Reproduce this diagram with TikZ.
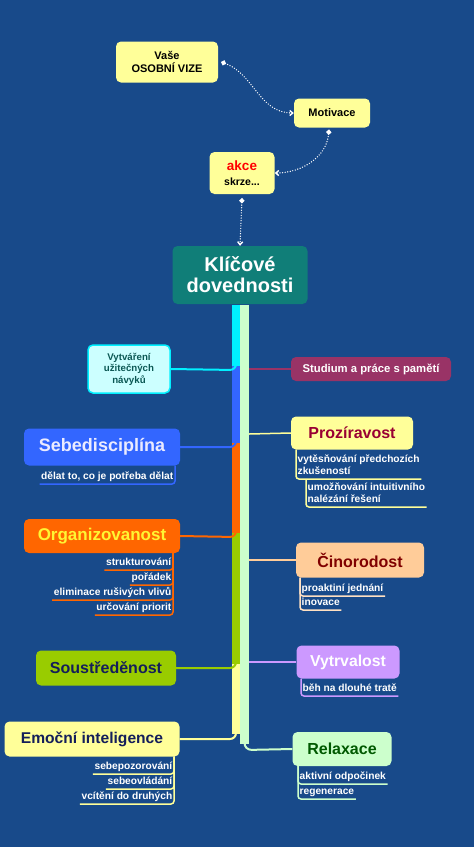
\documentclass[tikz,border=0pt]{standalone}
\usepackage{fontspec}
\setmainfont{Liberation Sans}
\usetikzlibrary{positioning, arrows.meta}
\definecolor{bgblue}{RGB}{24,74,138}
\definecolor{notepad}{RGB}{255,255,153}
\definecolor{keyteal}{RGB}{16,126,120}
\definecolor{habitcyan}{RGB}{0,240,255}
\definecolor{habitfill}{RGB}{204,255,255}
\definecolor{discblue}{RGB}{51,102,255}
\definecolor{orgorange}{RGB}{255,102,0}
\definecolor{focgreen}{RGB}{153,204,0}
\definecolor{memplum}{RGB}{153,51,102}
\definecolor{actpeach}{RGB}{255,204,153}
\definecolor{perslav}{RGB}{204,153,255}
\definecolor{relmint}{RGB}{204,255,204}
\definecolor{inknavy}{RGB}{20,30,90}

\begin{document}
\begin{tikzpicture}[x=1pt, y=-1pt, >={Straight Barb[length=3pt,width=5pt]},
                    box/.style={rounded corners=5pt, align=center, inner sep=0pt, font=\bfseries},
                    sub/.style={inner xsep=1.5pt, inner ysep=1.5pt, text=white, align=left,
                                text height=7.6pt, text depth=2.4pt,
                                font=\bfseries\fontsize{10.2}{12}\selectfont},
                    flow/.style={white, line width=1.4pt, line cap=round, dash pattern=on 0pt off 2.6pt,
                                 {Circle[length=5pt,width=5pt]}->},
                    twig/.style={line width=1.5pt, rounded corners=3pt}]

    \useasboundingbox (0,0) rectangle (474,847);
    \fill[bgblue] (0,0) rectangle (474,847);

    % top: vision -> motivation -> action
    \node[box, fill=notepad, minimum width=102, minimum height=41,
          font=\bfseries\fontsize{11}{13}\selectfont] (vize) at (167,62) {Vaše\\OSOBNÍ VIZE};
    \node[box, fill=notepad, minimum width=76, minimum height=29,
          font=\bfseries\fontsize{11}{13}\selectfont] (mot) at (332,113) {Motivace};
    \node[box, fill=notepad, minimum width=65, minimum height=42,
          font=\bfseries\fontsize{10.5}{15}\selectfont] (akce) at (242,173)
          {{\color{red}\fontsize{13.5}{15}\selectfont akce}\\skrze...};
    \node[box, fill=keyteal, text=white, minimum width=135, minimum height=58,
          font=\bfseries\fontsize{20}{21}\selectfont] (key) at (240,275) {Klíčové\\dovednosti};

    \draw[flow] (vize.east) ++(3,0) to[out=-20, in=180] (mot.west);
    \draw[flow] (mot.south) ++(-3,2) to[out=-95, in=0] (akce.east);
    \draw[flow] (akce.south) ++(0,4) -- (key.north);

    % left branches
    \node[box, fill=habitfill, draw=habitcyan, line width=1.5pt, text=keyteal!70!black,
          minimum width=82, minimum height=48,
          font=\bfseries\fontsize{9.7}{11.5}\selectfont] (habit) at (129,369) {Vytváření\\užitečných\\návyků};
    \node[box, fill=discblue, text=white!92!blue, minimum width=156, minimum height=37,
          font=\bfseries\fontsize{18}{20}\selectfont] (disc) at (102,447) {Sebedisciplína};
    \node[box, fill=orgorange, text=yellow!80!white, minimum width=156, minimum height=34,
          font=\bfseries\fontsize{17}{20}\selectfont] (org) at (102,536) {Organizovanost};
    \node[box, fill=focgreen, text=inknavy, minimum width=140, minimum height=35,
          font=\bfseries\fontsize{16}{20}\selectfont] (focus) at (106,668) {Soustředěnost};
    \node[box, fill=notepad, text=inknavy, minimum width=175, minimum height=35,
          font=\bfseries\fontsize{15.6}{20}\selectfont] (emo) at (92,739) {Emoční inteligence};

    % right branches
    \node[box, fill=memplum, text=white, minimum width=160, minimum height=24,
          font=\bfseries\fontsize{11.3}{13}\selectfont] (mem) at (371,369) {Studium a práce s pamětí};
    \node[box, fill=notepad, text=purple!80!black, minimum width=122, minimum height=33,
          font=\bfseries\fontsize{16}{20}\selectfont] (fore) at (352,433) {Prozíravost};
    \node[box, fill=actpeach, text=red!50!black, minimum width=128, minimum height=35,
          font=\bfseries\fontsize{16}{20}\selectfont] (act) at (360,560) {Činorodost};
    \node[box, fill=perslav, text=white, minimum width=103, minimum height=33,
          font=\bfseries\fontsize{15.8}{20}\selectfont] (pers) at (348,662) {Vytrvalost};
    \node[box, fill=relmint, text=green!35!black, minimum width=99, minimum height=34,
          font=\bfseries\fontsize{16}{20}\selectfont] (relax) at (342,749) {Relaxace};

    % trunk
    \fill[habitcyan] (232,305) rectangle (240,366);
    \fill[discblue] (232,366) rectangle (240,443);
    \fill[orgorange] (232,443) rectangle (240,533);
    \fill[focgreen] (232,533) rectangle (240,664);
    \fill[notepad] (232,664) rectangle (240,734);
    \fill[relmint] (240,305) rectangle (249,744);

    \draw[habitcyan, line width=2pt, rounded corners=6pt] (236,350) -- (236,370) -- (habit.east);
    \draw[discblue, line width=2pt, rounded corners=6pt] (236,430) -- (236,447) -- (disc.east);
    \draw[orgorange, line width=2pt, rounded corners=6pt] (236,520) -- (236,537) -- (org.east);
    \draw[focgreen, line width=2pt, rounded corners=6pt] (236,650) -- (236,668) -- (focus.east);
    \draw[notepad, line width=2pt, rounded corners=6pt] (236,720) -- (236,739) -- (emo.east);

    \draw[memplum, line width=1.5pt] (249,369) -- (mem.west);
    \draw[notepad, line width=1.5pt] (249,434) -- (fore.west);
    \draw[actpeach, line width=1.5pt] (249,560) -- (act.west);
    \draw[perslav, line width=1.5pt] (249,662) -- (pers.west);
    \draw[relmint, line width=2pt, rounded corners=7pt] (244.5,730) -- (244.5,750) -- (relax.west);

    % sub-items, left side
    \node[sub, anchor=south east] (disc1) at (175,484) {dělat to, co je potřeba dělat};
    \draw[twig, discblue] (disc.south -| disc1.south east) -- (disc1.south east) -- (disc1.south west);

    \node[sub, anchor=south east] (org1) at (173,570) {strukturování};
    \node[sub, anchor=south east] (org2) at (173,585) {pořádek};
    \node[sub, anchor=south east] (org3) at (173,600) {eliminace rušivých vlivů};
    \node[sub, anchor=south east] (org4) at (173,615) {určování priorit};
    \draw[twig, orgorange] (org.south -| org1.south east) -- (org1.south east) -- (org1.south west);
    \draw[twig, orgorange] (org.south -| org2.south east) -- (org2.south east) -- (org2.south west);
    \draw[twig, orgorange] (org.south -| org3.south east) -- (org3.south east) -- (org3.south west);
    \draw[twig, orgorange] (org.south -| org4.south east) -- (org4.south east) -- (org4.south west);

    \node[sub, anchor=south east] (emo1) at (174,774) {sebepozorování};
    \node[sub, anchor=south east] (emo2) at (174,789) {sebeovládání};
    \node[sub, anchor=south east] (emo3) at (174,804) {vcítění do druhých};
    \draw[twig, notepad] (emo.south -| emo1.south east) -- (emo1.south east) -- (emo1.south west);
    \draw[twig, notepad] (emo.south -| emo2.south east) -- (emo2.south east) -- (emo2.south west);
    \draw[twig, notepad] (emo.south -| emo3.south east) -- (emo3.south east) -- (emo3.south west);

    % sub-items, right side
    \node[sub, anchor=south west] (fore1) at (296,479) {vytěsňování předchozích\\zkušeností};
    \node[sub, anchor=south west] (fore2) at (306,507) {umožňování intuitivního\\nalézání řešení};
    \draw[twig, notepad] (fore.south -| fore1.south west) -- (fore1.south west) -- (fore1.south east);
    \draw[twig, notepad] (fore1.south -| fore2.south west) -- (fore2.south west) -- (fore2.south east);

    \node[sub, anchor=south west] (act1) at (300,596) {proaktiní jednání};
    \node[sub, anchor=south west] (act2) at (300,610) {inovace};
    \draw[twig, actpeach!60!white] (act.south -| act1.south west) -- (act1.south west) -- (act1.south east);
    \draw[twig, actpeach!60!white] (act.south -| act2.south west) -- (act2.south west) -- (act2.south east);

    \node[sub, anchor=south west] (pers1) at (301,696) {běh na dlouhé tratě};
    \draw[twig, perslav] (pers.south -| pers1.south west) -- (pers1.south west) -- (pers1.south east);

    \node[sub, anchor=south west] (relax1) at (298,784) {aktivní odpočinek};
    \node[sub, anchor=south west] (relax2) at (298,799) {regenerace};
    \draw[twig, relmint] (relax.south -| relax1.south west) -- (relax1.south west) -- (relax1.south east);
    \draw[twig, relmint] (relax.south -| relax2.south west) -- (relax2.south west) -- (relax2.south east);
\end{tikzpicture}
\end{document}
